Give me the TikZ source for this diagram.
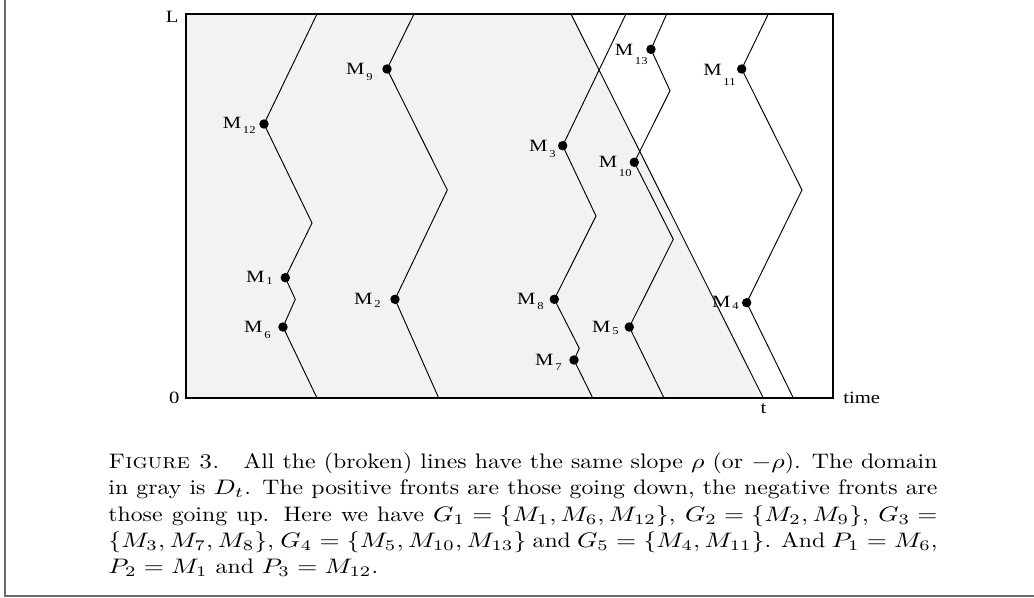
\documentclass[tikz,border=0pt]{standalone}
\usepackage{graphicx}
\usepackage{fontspec}
\newfontfamily\figfont[FakeStretch=1.2]{Liberation Serif}
\newcommand\Msub[2]{M\kern0.8pt\raisebox{-#2pt}{\fontsize{5}{6}\selectfont#1}}
\newcommand\mm[1]{\scalebox{1.09}[1]{$#1$}}
\newlength\capw
\setlength\capw{349.4pt}
\tikzset{
  fr/.style={line width=0.7pt},
  ln/.style={line width=0.45pt},
  dot/.style={circle, fill=black, inner sep=0pt, minimum size=4.5pt},
  lab/.style={font=\figfont\fontsize{8.2}{9}\selectfont, inner sep=0pt},
  edge/.style={line width=0.8pt, draw=black!58}
}
\begin{document}
\begin{tikzpicture}[x=0.47619pt, y=-0.47619pt]
\useasboundingbox (0,0) rectangle (1034,597);
% page frame fragments
\coordinate (pgtop) at (4.8,0);
\coordinate (pgcorner) at (4.8,595.8);
\coordinate (pgright) at (1034,595.8);
\draw[edge] (pgtop) -- (pgcorner) -- (pgright);

% plot box corners
\coordinate (bl) at (186,398);
\coordinate (tl) at (186,14);
\coordinate (tr) at (833,14);
\coordinate (br) at (833,398);
\coordinate (f1) at (571,14);
\coordinate (t0) at (763.3,398);
\fill[gray!10] (tl) -- (f1) -- (t0) -- (bl) -- cycle;
\draw[fr] (tl) rectangle (br);
\draw[ln] (f1) -- (t0);

% G1
\coordinate (a1) at (317,14);
\coordinate (m12) at (264,124);
\coordinate (a2) at (312,223);
\coordinate (m1) at (285.3,277.7);
\coordinate (a3) at (295.3,299.3);
\coordinate (m6) at (283,327);
\coordinate (a4) at (317,398);
\draw[ln] (a1) -- (m12) -- (a2) -- (m1) -- (a3) -- (m6) -- (a4);
% G2
\coordinate (b1) at (414,14);
\coordinate (m9) at (387,69);
\coordinate (b2) at (447.3,190);
\coordinate (m2) at (395,299.3);
\coordinate (b3) at (438.7,398);
\draw[ln] (b1) -- (m9) -- (b2) -- (m2) -- (b3);
% G3
\coordinate (c1) at (626,14);
\coordinate (m3) at (562.7,145.7);
\coordinate (c2) at (596,216);
\coordinate (m8) at (554.3,299.3);
\coordinate (c3) at (579.3,348.3);
\coordinate (m7) at (574,360);
\coordinate (c4) at (592.7,398);
\draw[ln] (c1) -- (m3) -- (c2) -- (m8) -- (c3) -- (m7) -- (c4);
% G4
\coordinate (d1) at (666.7,14);
\coordinate (m13) at (651,49.3);
\coordinate (d2) at (670,90.7);
\coordinate (m10) at (634.3,162.3);
\coordinate (d3) at (673.3,239.3);
\coordinate (m5) at (629.3,327);
\coordinate (d4) at (664,398);
\draw[ln] (d1) -- (m13) -- (d2) -- (m10) -- (d3) -- (m5) -- (d4);
% G5
\coordinate (e1) at (768.3,14);
\coordinate (m11) at (741.7,69);
\coordinate (e2) at (802,190);
\coordinate (m4) at (746.7,302.7);
\coordinate (e3) at (793.3,398);
\draw[ln] (e1) -- (m11) -- (e2) -- (m4) -- (e3);

% dots
\foreach \p in {m1,m2,m3,m4,m5,m6,m7,m8,m9,m10,m11,m12,m13}
  \node[dot] (D\p) at (\p) {};

% labels
\node[lab, anchor=base east] (L12) at (256,128) {\Msub{12}{2.4}};
\node[lab, anchor=base east] (L9) at (373,74) {\Msub{9}{3.3}};
\node[lab, anchor=base east] (L1) at (273,282) {\Msub{1}{1.4}};
\node[lab, anchor=base east] (L6) at (271,332) {\Msub{6}{2.9}};
\node[lab, anchor=base east] (L2) at (381,304) {\Msub{2}{1.9}};
\node[lab, anchor=base east] (L3) at (556,151) {\Msub{3}{2.9}};
\node[lab, anchor=base east] (L13) at (648,55) {\Msub{13}{4.3}};
\node[lab, anchor=base east] (L11) at (736,75) {\Msub{11}{4.8}};
\node[lab, anchor=base east] (L10) at (632,167) {\Msub{10}{4.3}};
\node[lab, anchor=base east] (L8) at (544,304) {\Msub{8}{2.4}};
\node[lab, anchor=base east] (L5) at (619,332) {\Msub{5}{1.4}};
\node[lab, anchor=base east] (L7) at (562,365) {\Msub{7}{2.4}};
\node[lab, anchor=base east] (L4) at (739,307) {\Msub{4}{1.4}};

% axis labels
\node[lab, anchor=base east] (Ly) at (179,22) {L};
\node[lab, anchor=base east] (zero) at (180,403) {0};
\node[lab, anchor=base] (tlab) at (763.5,413) {t};
\node[lab, anchor=base west] (time) at (843,403) {time};

% caption
\node[anchor=north west, inner sep=0pt, font=\fontsize{10}{12.52}\selectfont] (cap) at (108,452.3)
{\scalebox{1.13}[1]{\vbox{\baselineskip=12.52pt
\hbox to \capw{\textsc{Figure 3.}\quad All the (broken) lines have the same slope \mm{\rho} (or \mm{-\rho}). The domain}
\hbox to \capw{in gray is \mm{D_t}. The positive fronts are those going down, the negative fronts are}
\hbox to \capw{those going up.  Here we have \mm{G_1=\{M_1,M_6,M_{12}\}}, \mm{G_2=\{M_2,M_9\}}, \mm{G_3=}}
\hbox to \capw{\mm{\{M_3,M_7,M_8\}}, \mm{G_4=\{M_5,M_{10},M_{13}\}} and \mm{G_5=\{M_4,M_{11}\}}. And \mm{P_1=M_6},}
\hbox{\mm{P_2=M_1} and \mm{P_3=M_{12}}.}}}};
\end{tikzpicture}
\end{document}
